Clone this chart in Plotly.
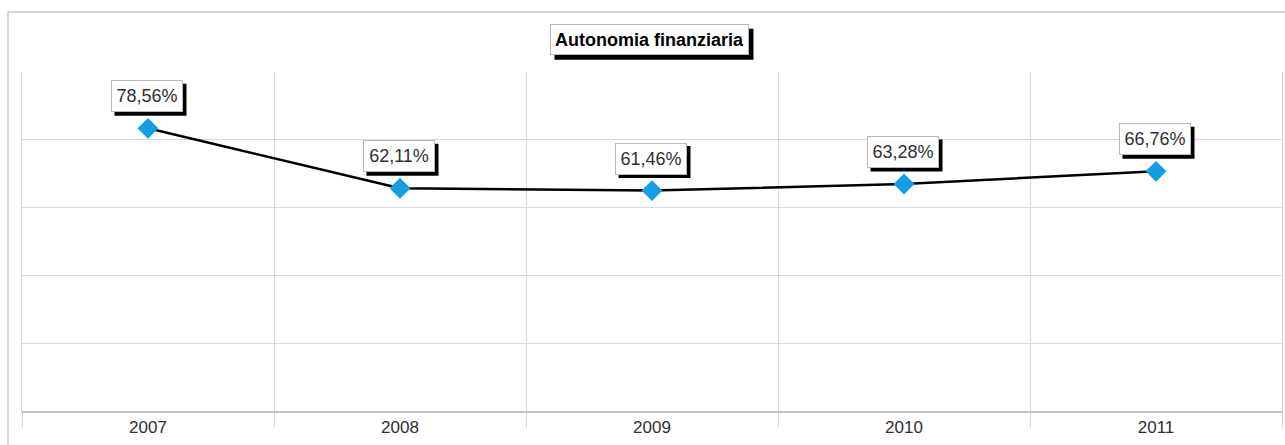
import plotly.graph_objects as go

years = ["2007", "2008", "2009", "2010", "2011"]
values = [78.56, 62.11, 61.46, 63.28, 66.76]
labels = ["78,56%", "62,11%", "61,46%", "63,28%", "66,76%"]
title_text = "Autonomia finanziaria"

FONT = "Liberation Sans, Arial, sans-serif"
TXT = "#303030"
GRID = "#d9d9d9"
BOX_W, BOX_H = 72, 32        # label box size (px)
LIFT = 32                    # label centre above marker (px)
SH = 3.5                     # shadow offset (px)

fig = go.Figure()
fig.add_trace(go.Scatter(
    x=years, y=values, mode="lines+markers",
    line=dict(color="black", width=2.5),
    marker=dict(symbol="diamond", size=16, color="#139ee6", line=dict(width=0)),
    showlegend=False, hoverinfo="skip",
))

annotations = []
shapes = []
for i, (v, lab) in enumerate(zip(values, labels)):
    # shadow behind the label box, anchored at the data point
    shapes.append(dict(
        type="rect", xref="x", yref="y",
        xsizemode="pixel", ysizemode="pixel", xanchor=i, yanchor=v,
        x0=-1 - BOX_W / 2 + SH, x1=-1 + BOX_W / 2 + SH,
        y0=LIFT - BOX_H / 2 - SH, y1=LIFT + BOX_H / 2 - SH,
        fillcolor="black", line=dict(width=0), layer="above",
    ))
    annotations.append(dict(
        x=i, y=v, xref="x", yref="y", text=lab, showarrow=False,
        yshift=LIFT, xshift=-1,
        width=BOX_W - 2, height=BOX_H - 2, borderpad=0,
        font=dict(family=FONT, size=18, color=TXT),
        bgcolor="white", bordercolor="#b8b8b8", borderwidth=1,
    ))

# title box with shadow
TX, TW, TH, TLIFT = 0.4984, 199, 31, 32.3
shapes.append(dict(
    type="rect", xref="paper", yref="paper",
    xsizemode="pixel", ysizemode="pixel", xanchor=TX, yanchor=1.0,
    x0=-TW / 2 + 4, x1=TW / 2 + 4, y0=TLIFT - TH / 2 - 4.5, y1=TLIFT + TH / 2 - 4.5,
    fillcolor="black", line=dict(width=0), layer="above",
))
annotations.append(dict(
    x=TX, y=1.0, xref="paper", yref="paper", yanchor="middle",
    text="<b>%s</b>" % title_text, showarrow=False, yshift=TLIFT,
    width=TW - 2, height=TH - 2, borderpad=0,
    font=dict(family=FONT, size=18, color="black"),
    bgcolor="white", bordercolor="#b8b8b8", borderwidth=1,
))

# outer chart border
shapes.append(dict(type="rect", xref="paper", yref="paper",
                   x0=-14 / 1260, x1=1.05, y0=-0.3, y1=399 / 339,
                   line=dict(color="#c8c8c8", width=1.5), fillcolor="rgba(0,0,0,0)",
                   layer="below"))

fig.update_layout(
    width=1285, height=445,
    margin=dict(l=22, r=3, t=72, b=34),
    paper_bgcolor="white", plot_bgcolor="white",
    annotations=annotations,
    shapes=shapes,
)

fig.update_xaxes(
    type="category", range=[-0.5, 4.5],
    tickson="boundaries", ticks="outside", ticklen=15, tickcolor=GRID, tickwidth=1,
    showgrid=True, gridcolor=GRID, gridwidth=1,
    showline=True, linecolor="#c4c4c4", linewidth=1.5, mirror=False,
    tickfont=dict(family=FONT, size=17, color=TXT),
    ticklabelstandoff=0,
    zeroline=False,
)
fig.update_yaxes(
    range=[1.0, 94.0], tick0=1.0, dtick=18.6,
    showgrid=True, gridcolor=GRID, gridwidth=1,
    showticklabels=False, ticks="",
    showline=True, linecolor=GRID, mirror=True,
    zeroline=False,
)

fig.write_html(
    "out.html",
    config={"displayModeBar": False},
    post_script="document.body.style.margin='0px';document.body.style.overflow='hidden';",
)
